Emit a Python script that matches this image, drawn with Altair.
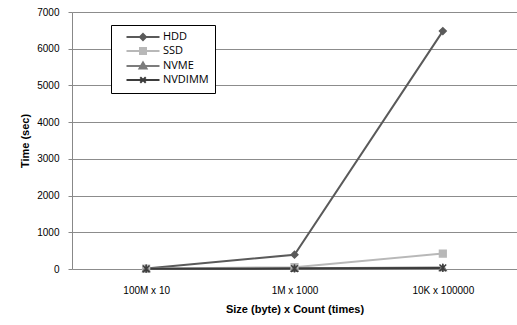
import altair as alt
import pandas as pd

categories = ["100M x 10", "1M x 1000", "10K x 100000"]
series = ["HDD", "SSD", "NVME", "NVDIMM"]
hdd = [15, 390, 6480]
ssd = [10, 50, 420]
nvme = [8, 20, 40]
nvdimm = [5, 12, 30]
colors = ["#5a5a5a", "#b8b8b8", "#7c7c7c", "#3c3c3c"]

point_shapes = [
    "diamond",
    "square",
    "triangle-up",
    "M-1,-1L1,1M-1,1L1,-1M0,-1.2L0,1.2",
]
legend_paths = [
    "M-3.3,0H3.3M0,-0.6L0.6,0L0,0.6L-0.6,0Z",
    "M-3.3,0H3.3M-0.6,-0.6H0.6V0.6H-0.6Z",
    "M-3.3,0H3.3M0,-0.7L0.7,0.5H-0.7Z",
    "M-3.3,0H3.3M-0.55,-0.55L0.55,0.55M-0.55,0.55L0.55,-0.55",
]

rows = []
for s, vals in zip(series, [hdd, ssd, nvme, nvdimm]):
    for c, v in zip(categories, vals):
        rows.append({"series": s, "cat": c, "value": v})
df = pd.DataFrame(rows)

FONT = "Open Sans"

x_enc = alt.X(
    "cat:N",
    sort=categories,
    scale=alt.Scale(padding=0.5),
    axis=alt.Axis(
        title="Size (byte) x Count (times)",
        labelAngle=0,
        ticks=False,
        domain=False,
        grid=False,
        labelPadding=16,
        titlePadding=8,
    ),
)
y_enc = alt.Y(
    "value:Q",
    scale=alt.Scale(domain=[0, 7000]),
    axis=alt.Axis(
        title="Time (sec)",
        values=[0, 1000, 2000, 3000, 4000, 5000, 6000, 7000],
        format="d",
        tickSize=4,
        labelPadding=9,
        titlePadding=6,
        domain=True,
        domainColor="#888888",
        tickColor="#888888",
        gridColor="#8c8c8c",
    ),
)

color_scale = alt.Scale(domain=series, range=colors)

legend_def = alt.Legend(
    title=None,
    orient="none",
    legendX=39,
    legendY=13,
    strokeColor="black",
    fillColor="white",
    padding=6,
    symbolSize=100,
    symbolStrokeWidth=2,
    symbolOpacity=1,
    symbolOffset=20,
    labelFontSize=11,
    labelOffset=14,
    rowPadding=0,
    labelFont=FONT,
    labelColor="black",
)

# legend-only helper layer (invisible marks), drawn first
legend_layer = (
    alt.Chart(df)
    .mark_point(filled=False, size=100, strokeWidth=2, opacity=0)
    .encode(
        x=x_enc,
        y=y_enc,
        color=alt.Color("series:N", sort=series, scale=color_scale, legend=legend_def),
        fill=alt.Fill("series:N", sort=series, scale=color_scale, legend=legend_def),
        shape=alt.Shape("series:N", sort=series, scale=alt.Scale(domain=series, range=legend_paths), legend=legend_def),
    )
)

layers = [legend_layer]
for s, shp, col in zip(series, point_shapes, colors):
    base = alt.Chart(df).transform_filter(alt.datum.series == s)
    layers.append(base.mark_line(strokeWidth=2, color=col).encode(x=x_enc, y=y_enc))
for s, shp, col in zip(series, point_shapes, colors):
    base = alt.Chart(df).transform_filter(alt.datum.series == s)
    layers.append(
        base.mark_point(filled=True, size=45, strokeWidth=1.5, opacity=1, shape=shp, fill=col, stroke=col)
        .encode(x=x_enc, y=y_enc)
    )

chart = (
    alt.layer(*layers)
    .properties(
        width=445,
        height=257,
        autosize=alt.AutoSizeParams(type="none"),
        padding={"left": 72, "top": 12, "right": 0, "bottom": 56},
    )
    .configure_view(stroke=None)
    .configure_axis(
        labelFont=FONT,
        titleFont=FONT,
        labelFontSize=12,
        titleFontSize=12,
        titleFontWeight="bold",
        labelColor="black",
        titleColor="black",
    )
    .configure(background="white")
)

chart.save("out.html", embed_options={"renderer": "svg", "actions": False})
